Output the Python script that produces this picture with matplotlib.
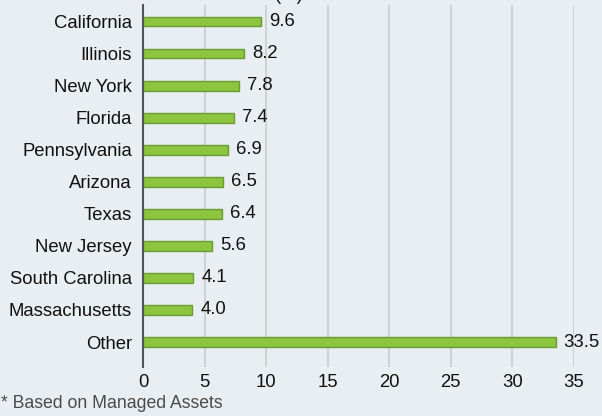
import matplotlib
matplotlib.use("Agg")
import matplotlib.pyplot as plt

categories = ["California", "Illinois", "New York", "Florida", "Pennsylvania",
              "Arizona", "Texas", "New Jersey", "South Carolina", "Massachusetts", "Other"]
values = [9.6, 8.2, 7.8, 7.4, 6.9, 6.5, 6.4, 5.6, 4.1, 4.0, 33.5]
xticks = [0, 5, 10, 15, 20, 25, 30, 35]
footnote = "* Based on Managed Assets"

plt.rcParams['font.family'] = ['Liberation Sans', 'DejaVu Sans']
bg = "#E9EEF2"

fig = plt.figure(figsize=(6.02, 4.16), dpi=100, facecolor=bg)
W, H = 602, 416
ax = fig.add_axes([143 / W, 1 - 367 / H, (574 - 143) / W, (367 - 5) / H])
ax.set_facecolor(bg)

ypos = list(range(len(categories)))
ax.barh(ypos, values, height=0.3, color="#8CC540", edgecolor="#6B9B33", linewidth=1.0, zorder=3)
for y, v in zip(ypos, values):
    ax.text(v + 0.65, y, f"{v:.1f}", va="center", ha="left", fontsize=13.3, color="#111111")

ax.set_xlim(0, 35)
ax.set_ylim(10.78, -0.52)
ax.set_yticks(ypos)
ax.set_yticklabels(categories, fontsize=13.3, color="#111111")
ax.set_xticks(xticks)
ax.set_xticklabels([str(t) for t in xticks], fontsize=13.3, color="#111111")
ax.tick_params(axis="both", length=0)
ax.tick_params(axis="y", pad=8)
ax.tick_params(axis="x", pad=5)
ax.xaxis.grid(True, color="#CCCCCC", linewidth=1.2, zorder=0)
ax.set_axisbelow(True)
for s in ["top", "right", "bottom"]:
    ax.spines[s].set_visible(False)
ax.spines["left"].set_color("#555555")
ax.spines["left"].set_linewidth(1.5)
ax.spines["left"].set_zorder(4)

fig.text(275 / W, 1 - 0 / H, "(%)", ha="left", va="baseline", fontsize=13.3, color="#111111")
fig.text(1 / W, 1 - 404 / H, footnote, ha="left", va="center", fontsize=12.7, color="#4A4A4A")

fig.savefig("out.png", dpi=100, facecolor=bg)
